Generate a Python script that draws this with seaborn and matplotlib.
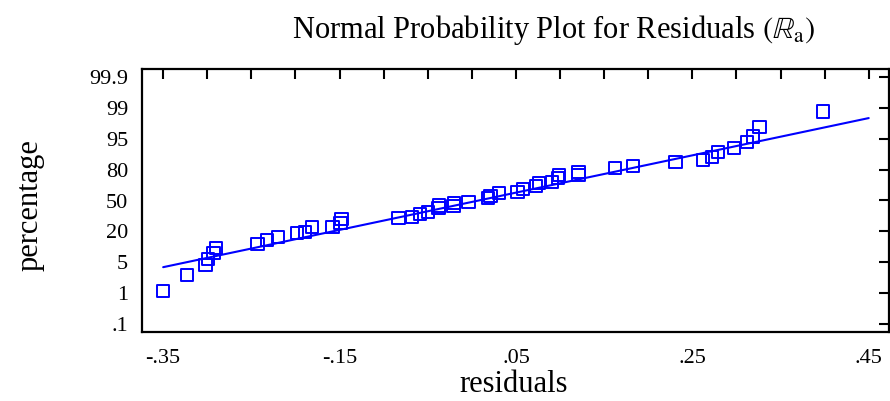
import matplotlib
matplotlib.use("Agg")
import matplotlib.pyplot as plt
import seaborn as sns
import pandas as pd
from matplotlib.ticker import FixedLocator, MultipleLocator, NullFormatter

# --- Datos ---
# y_pos: posicion en la escala de probabilidad (0 = .1, 8 = 99.9, espaciado uniforme)
residuals = [-0.350, -0.323, -0.302, -0.299, -0.293, -0.290, -0.243, -0.232,
             -0.220, -0.198, -0.189, -0.181, -0.158, -0.149, -0.148, -0.083,
             -0.068, -0.059, -0.050, -0.038, -0.037, -0.021, -0.020, -0.004,
             0.018, 0.021, 0.031, 0.052, 0.058, 0.073, 0.076, 0.091,
             0.098, 0.099, 0.121, 0.121, 0.162, 0.183, 0.231, 0.262,
             0.272, 0.279, 0.297, 0.312, 0.319, 0.326, 0.398]
y_pos = [1.07, 1.59, 1.91, 2.10, 2.30, 2.46, 2.59, 2.72,
         2.82, 2.94, 2.98, 3.14, 3.14, 3.27, 3.40, 3.43,
         3.46, 3.56, 3.62, 3.75, 3.84, 3.82, 3.92, 3.95,
         4.08, 4.14, 4.24, 4.27, 4.37, 4.47, 4.56, 4.60,
         4.72, 4.82, 4.82, 4.92, 5.05, 5.11, 5.24, 5.31,
         5.40, 5.57, 5.70, 5.89, 6.08, 6.38, 6.89]

# recta de referencia
fit_x = [-0.35, 0.45]
fit_y = [1.84, 6.67]

pct_labels = [".1", "1", "5", "20", "50", "80", "95", "99", "99.9"]
x_tick_vals = [-0.35, -0.15, 0.05, 0.25, 0.45]
x_tick_labels = ["-.35", "-.15", ".05", ".25", ".45"]

data = pd.DataFrame({"residuals": residuals, "y": y_pos})
fit = pd.DataFrame({"x": fit_x, "y": fit_y})

sns.set_theme(style="white")
plt.rcParams["font.family"] = ["Liberation Serif", "DejaVu Serif"]
plt.rcParams["mathtext.fontset"] = "stix"
plt.rcParams["text.color"] = "black"

fig = plt.figure(figsize=(8.9, 4.01), dpi=100)
ax = fig.add_axes([142 / 890, 1 - 332 / 401, 747 / 890, 263 / 401])

sns.lineplot(data=fit, x="x", y="y", color="#0000ff", linewidth=1.5, ax=ax)
sns.scatterplot(data=data, x="residuals", y="y", marker="s", s=80,
                facecolor="none", edgecolor="#0000ff", linewidth=1.4, ax=ax)

ax.set_xlim(-0.374, 0.473)
ax.set_ylim(-0.26, 8.26)

ax.xaxis.set_major_locator(FixedLocator(x_tick_vals))
ax.set_xticklabels(x_tick_labels)
ax.xaxis.set_minor_locator(MultipleLocator(0.05))
ax.xaxis.set_minor_formatter(NullFormatter())
ax.set_yticks(range(len(pct_labels)))
ax.set_yticklabels(pct_labels)

ax.tick_params(which="both", direction="in", top=True, right=True,
               length=7, width=1.5, color="black", labelsize=16,
               labelcolor="black")
ax.tick_params(axis="y", pad=10)
ax.tick_params(axis="x", pad=12)

for sp in ax.spines.values():
    sp.set_color("black")
    sp.set_linewidth(1.6)

ax.set_xlabel("")
ax.set_ylabel("")
fig.text(514 / 890, 1 - 384 / 401, "residuals", ha="center", va="center",
         fontsize=22, color="black")
fig.text(30 / 890, 1 - 205 / 401, "percentage", ha="center", va="center",
         rotation=90, fontsize=22, color="black")
fig.text(553 / 890, 1 - 30 / 401,
         r"Normal Probability Plot for Residuals $(\mathbb{R}_{\mathrm{a}})$",
         ha="center", va="center", fontsize=22, color="black")

plt.savefig("out.png", dpi=100)
